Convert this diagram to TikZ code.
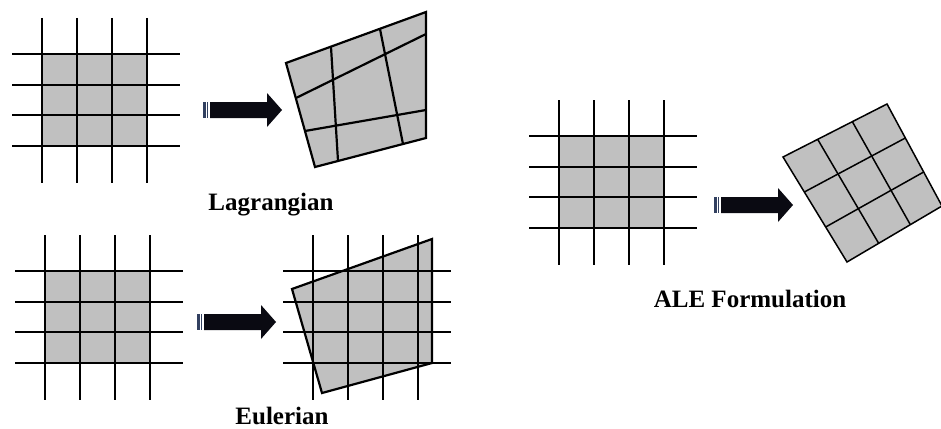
\documentclass[tikz,border=0pt]{standalone}
\usepackage{fontspec}
\setmainfont{Liberation Serif}
\usetikzlibrary{calc}

\definecolor{meshgray}{RGB}{192,192,192}
\definecolor{arrowink}{RGB}{10,10,18}
\definecolor{stripeink}{RGB}{50,64,96}

\tikzset{
  meshline/.style={line width=2.6pt, black},
  warpline/.style={line width=2.2pt, black},
  thinmesh/.style={line width=1.5pt, black},
  caption/.style={font=\fontsize{25}{30}\selectfont\bfseries, inner sep=0pt},
}

% fixed background grid, origin = upper left corner of the grey block
\newcommand{\fixedgrid}[2]{%
  \begin{scope}[shift={#1}]
    \fill[#2] (0,0) rectangle (105,92);
    \foreach \gx in {0,35,70,105} \draw[meshline] (\gx,-36) -- (\gx,129);
    \foreach \gy in {0,31,61,92} \draw[meshline] (-30,\gy) -- (138,\gy);
  \end{scope}}

% block arrow, origin = middle of the striped tail
\newcommand{\blockarrow}[1]{%
  \begin{scope}[shift={(#1)}]
    \fill[stripeink] (0,-8) rectangle (2.5,8);
    \fill[stripeink] (3.5,-8) rectangle (5,8);
    \fill[arrowink] (7,-8) -- (64,-8) -- (64,-17) -- (79,0) -- (64,17) -- (64,8) -- (7,8) -- cycle;
  \end{scope}}

\begin{document}
\begin{tikzpicture}[x=1pt, y=-1pt]
    \useasboundingbox (0,0) rectangle (941,428);

    % Lagrangian
    \fixedgrid{(42,54)}{meshgray}
    \coordinate (lagtail) at (203,110);
    \blockarrow{lagtail}
    \coordinate (lag-a) at (286,63);
    \coordinate (lag-b) at (426,12);
    \coordinate (lag-c) at (426,138);
    \coordinate (lag-d) at (315,167);
    \filldraw[warpline, fill=meshgray] (lag-a) -- (lag-b) -- (lag-c) -- (lag-d) -- cycle;
    \draw[warpline] (331,47) -- (338,161);
    \draw[warpline] (380,29) -- (403,144);
    \draw[warpline] (296,98) -- (426,34);
    \draw[warpline] (305,131) -- (426,110);
    \node[caption, anchor=base] (lagcap) at (271,210) {Lagrangian};

    % Eulerian
    \fixedgrid{(45,271)}{meshgray}
    \coordinate (eultail) at (197,322);
    \blockarrow{eultail}
    \coordinate (eul-a) at (292,289);
    \coordinate (eul-b) at (432,239);
    \coordinate (eul-c) at (432,363);
    \coordinate (eul-d) at (322,393);
    \fill[meshgray] (eul-a) -- (eul-b) -- (eul-c) -- (eul-d) -- cycle;
    \fixedgrid{(313,271)}{white, opacity=0}
    \draw[warpline] (eul-a) -- (eul-b) -- (eul-c) -- (eul-d) -- cycle;
    \node[caption, anchor=base] (eulcap) at (282,424) {Eulerian};

    % ALE
    \fixedgrid{(559,136)}{meshgray}
    \coordinate (aletail) at (714,205);
    \blockarrow{aletail}
    \coordinate (ale-l) at (783,157);
    \coordinate (ale-t) at (887,104);
    \coordinate (ale-r) at (942,206);
    \coordinate (ale-b) at (847,262);
    \filldraw[thinmesh, fill=meshgray] (ale-l) -- (ale-t) -- (ale-r) -- (ale-b) -- cycle;
    \foreach \k in {1,2} {
      \draw[thinmesh] ($(ale-l)!\k/3!(ale-t)$) -- ($(ale-b)!\k/3!(ale-r)$);
      \draw[thinmesh] ($(ale-l)!\k/3!(ale-b)$) -- ($(ale-t)!\k/3!(ale-r)$);
    }
    \node[caption, anchor=base] (alecap) at (750,307) {ALE Formulation};
\end{tikzpicture}
\end{document}
